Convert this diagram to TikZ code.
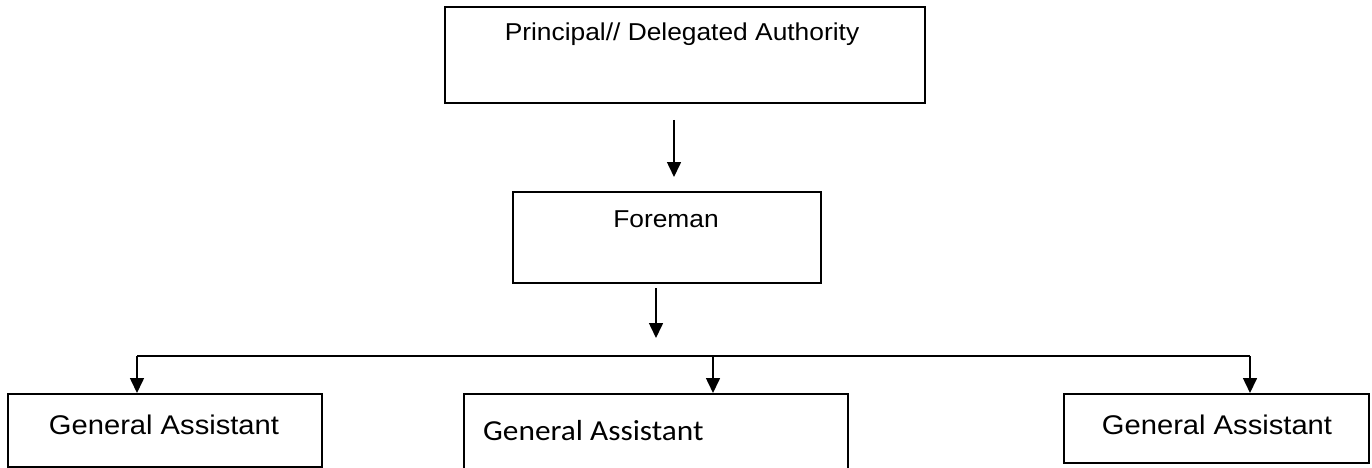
\documentclass[tikz,border=0pt]{standalone}
\usepackage{fontspec}
\setmainfont{Liberation Sans}
\newfontfamily\calfont{Carlito}
\usetikzlibrary{arrows.meta}
\tikzset{
  box/.style={draw=black, line width=1.6pt, rectangle, inner sep=0pt, anchor=north west},
  lbl/.style={anchor=base, inner sep=0pt, font=\fontsize{24.4}{28}\selectfont},
  lblga/.style={anchor=base, inner sep=0pt, font=\fontsize{27}{31}\selectfont},
  conn/.style={draw=black, line width=1.6pt},
  arr/.style={conn, -{Triangle[width=14pt,length=15pt]}}
}
\begin{document}
\begin{tikzpicture}[x=1pt,y=1pt]
\useasboundingbox (0,0) rectangle (1372,-468);
\clip (0,0) rectangle (1372,-468);
% boxes
\node[box, minimum width=480pt, minimum height=96pt] (top) at (444,-6) {};
\node[box, minimum width=308pt, minimum height=91pt] (fore) at (512,-191) {};
\node[box, minimum width=314pt, minimum height=73pt] (ga1) at (7,-393) {};
\node[box, minimum width=384pt, minimum height=100pt] (ga2) at (463,-393) {};
\node[box, minimum width=305pt, minimum height=69pt] (ga3) at (1063,-393) {};
% texts
\node[lbl] (ttop) at (682,-41) {\scalebox{1.08}[1]{Principal// Delegated Authority}};
\node[lbl] (tfore) at (666,-227) {\scalebox{1.08}[1]{Foreman}};
\node[lblga] (tga1) at (164,-434) {\scalebox{1.08}[1]{General Assistant}};
\node[anchor=base west, inner sep=0pt, font=\calfont\fontsize{29}{33}\selectfont] (tga2) at (483,-440) {\scalebox{1.08}[1]{General Assistant}};
\node[lblga] (tga3) at (1217,-434) {\scalebox{1.08}[1]{General Assistant}};
% connectors
\coordinate (a1s) at (674,-120);
\coordinate (a1e) at (674,-177);
\coordinate (a2s) at (656,-288);
\coordinate (a2e) at (656,-338);
\coordinate (hl) at (137,-356);
\coordinate (hm) at (713,-356);
\coordinate (hr) at (1250,-356);
\draw[arr] (a1s) -- (a1e);
\draw[arr] (a2s) -- (a2e);
\draw[conn] (hl) -- (hr);
\draw[arr] (hl) -- (hl |- ga1.north);
\draw[arr] (hm) -- (hm |- ga2.north);
\draw[arr] (hr) -- (hr |- ga3.north);
\end{tikzpicture}
\end{document}
